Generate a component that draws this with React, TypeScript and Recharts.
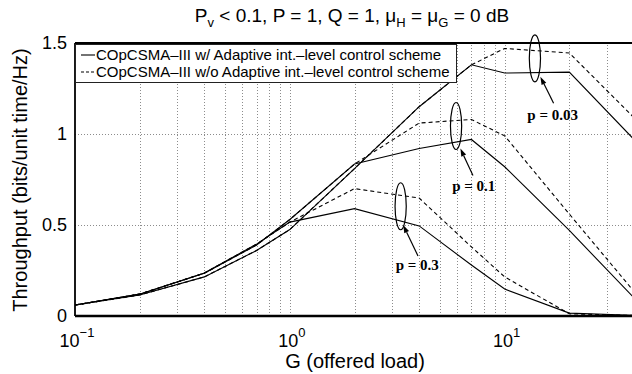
import React from 'react';
import {
  LineChart, Line, XAxis, YAxis, ReferenceLine, ReferenceDot,
} from 'recharts';

// offered load G (log axis)
const G = [0.1, 0.2, 0.4, 0.7, 1, 2, 4, 7, 10, 20, 40];

// throughput, w/ = solid, w/o = dashed
const W_P003 = [0.06, 0.115, 0.215, 0.36, 0.475, 0.81, 1.15, 1.38, 1.335, 1.34, 0.97];
const WO_P003 = [0.06, 0.115, 0.215, 0.36, 0.475, 0.81, 1.15, 1.38, 1.47, 1.445, 1.09];
const W_P01 = [0.06, 0.12, 0.235, 0.39, 0.53, 0.835, 0.92, 0.97, 0.82, 0.47, 0.1];
const WO_P01 = [0.06, 0.12, 0.235, 0.39, 0.53, 0.835, 1.06, 1.08, 0.99, 0.56, 0.135];
const W_P03 = [0.06, 0.12, 0.236, 0.395, 0.516, 0.59, 0.495, 0.28, 0.148, 0.016, 0.004];
const WO_P03 = [0.06, 0.12, 0.236, 0.395, 0.516, 0.7, 0.648, 0.38, 0.215, 0.012, 0.003];

const X_GRID = [0.1, 0.2, 0.3, 0.4, 0.5, 0.6, 0.7, 0.8, 0.9, 1, 2, 3, 4, 5, 6, 7, 8, 9, 10, 20, 30, 40];
const X_MAJOR: Record<string, string> = { '0.1': '\u22121', '1': '0', '10': '1' };
const Y_TICKS = [0, 0.5, 1, 1.5];
const Y_GRID = [0.5, 1];
const X_MIN = 0.1;
const X_MAX = 40;

const LEGEND = [
  'COpCSMA\u2013III w/ Adaptive int.\u2013level control scheme',
  'COpCSMA\u2013III w/o Adaptive int.\u2013level control scheme',
];

// p labels: ellipse centre, arrow tail -> head, text baseline (data coords)
const NOTES = [
  { label: 'p = 0.03', ell: [13.83, 1.416], tail: [16.9, 1.169], head: [14.66, 1.315], text: [16.72, 1.077] },
  { label: 'p = 0.1', ell: [5.94, 1.044], tail: [7.12, 0.772], head: [6.22, 0.921], text: [7.18, 0.687] },
  { label: 'p = 0.3', ell: [3.28, 0.603], tail: [3.95, 0.33], head: [3.37, 0.5], text: [3.92, 0.253] },
];

const data = G.map((g, i) => ({
  g,
  w003: W_P003[i], wo003: WO_P003[i],
  w01: W_P01[i], wo01: WO_P01[i],
  w03: W_P03[i], wo03: WO_P03[i],
}));

const FONT = '"Liberation Sans", Arial, Helvetica, sans-serif';
const GRID_COLOR = '#8c8c8c';

const snap = (v: number) => Math.round(v) + 0.5;

// dotted grid line (path), snapped to pixel centres
const GridLine = (props: any) => {
  const { x1, y1, x2, y2 } = props;
  const vertical = Math.abs(x1 - x2) < 0.5;
  const d = vertical
    ? `M${snap(x1)},${y1}V${y2}`
    : `M${x1},${snap(y1)}H${x2}`;
  return <path d={d} fill="none" stroke={GRID_COLOR} strokeWidth={1} strokeDasharray="1 2" />;
};

const XTick = (props: any) => {
  const { x, payload } = props;
  const exp = X_MAJOR[String(payload.value)];
  if (exp === undefined) return null;
  return (
    <text x={x + 2} y={347} textAnchor="middle" fontSize={18} fill="#000" fontFamily={FONT}>
      10<tspan dy={-10} fontSize={13}>{exp}</tspan>
    </text>
  );
};

const Arrow = (props: any) => {
  const { x1, y1, x2, y2 } = props;
  const dx = x2 - x1, dy = y2 - y1;
  const len = Math.sqrt(dx * dx + dy * dy) || 1;
  const ux = dx / len, uy = dy / len;
  const hl = 8, hw = 2.6;
  const bx = x2 - ux * hl, by = y2 - uy * hl;
  return (
    <g>
      <line x1={x1} y1={y1} x2={bx} y2={by} stroke="#000" strokeWidth={1.2} />
      <polygon
        points={`${x2},${y2} ${bx - uy * hw},${by + ux * hw} ${bx + uy * hw},${by - ux * hw}`}
        fill="#000"
      />
    </g>
  );
};

export default function App() {
  const line = (key: string, dashed: boolean) => (
    <Line
      key={key}
      type="linear"
      dataKey={key}
      stroke="#000"
      strokeWidth={1.1}
      strokeDasharray={dashed ? '4 3' : undefined}
      dot={false}
      isAnimationActive={false}
    />
  );

  return (
    <div style={{ position: 'absolute', left: 0, top: 0, width: 632, height: 374, overflow: 'hidden', background: '#fff', fontFamily: FONT }}>
      <LineChart width={660} height={374} data={data} margin={{ top: 43, right: 26, bottom: 0, left: 0 }}>
        <XAxis
          dataKey="g"
          type="number"
          scale="log"
          domain={[X_MIN, X_MAX]}
          allowDataOverflow
          ticks={X_GRID}
          interval={0}
          height={58}
          tickLine={false}
          axisLine={{ stroke: '#000', strokeWidth: 2.5 }}
          tick={<XTick />}
          label={{
            content: () => (
              <text x={355} y={368} textAnchor="middle" fontSize={20} fill="#000" fontFamily={FONT}>G (offered load)</text>
            ),
          }}
        />
        <YAxis
          type="number"
          domain={[0, 1.5]}
          ticks={Y_TICKS}
          interval={0}
          width={75}
          tickSize={0}
          tickMargin={8}
          tickLine={false}
          tickFormatter={(v: number) => String(v)}
          axisLine={{ stroke: '#000', strokeWidth: 1.8 }}
          tick={{ fontSize: 18, fill: '#000', fontFamily: FONT }}
          label={{
            content: () => (
              <text transform="rotate(-90)" x={-180} y={27} textAnchor="middle" fontSize={20} fill="#000" fontFamily={FONT}>
                Throughput (bits/unit time/Hz)
              </text>
            ),
          }}
        />
        {X_GRID.filter((v) => v > X_MIN).map((v) => (
          <ReferenceLine
            key={'gx' + v}
            segment={[{ x: v, y: 0 }, { x: v, y: 1.5 }]}
            shape={(p: any) => <GridLine {...p} />}
          />
        ))}
        {Y_GRID.map((v) => (
          <ReferenceLine
            key={'gy' + v}
            segment={[{ x: X_MIN, y: v }, { x: X_MAX, y: v }]}
            shape={(p: any) => <GridLine {...p} />}
          />
        ))}
        <ReferenceLine y={1.5} stroke="#000" strokeWidth={1.8} />
        {line('w03', false)}
        {line('wo03', true)}
        {line('w01', false)}
        {line('wo01', true)}
        {line('w003', false)}
        {line('wo003', true)}
        {NOTES.map((n) => (
          <ReferenceDot
            key={n.label + 'e'}
            x={n.ell[0]}
            y={n.ell[1]}
            shape={(p: any) => <ellipse cx={p.cx} cy={p.cy} rx={5.6} ry={23.5} fill="none" stroke="#000" strokeWidth={1.2} />}
          />
        ))}
        {NOTES.map((n) => (
          <ReferenceLine
            key={n.label + 'a'}
            segment={[{ x: n.tail[0], y: n.tail[1] }, { x: n.head[0], y: n.head[1] }]}
            shape={(p: any) => <Arrow {...p} />}
          />
        ))}
        {NOTES.map((n) => (
          <ReferenceDot
            key={n.label + 't'}
            x={n.text[0]}
            y={n.text[1]}
            shape={(p: any) => (
              <text x={p.cx} y={p.cy} textAnchor="middle" fontSize={15} fontWeight="bold" fill="#000"
                fontFamily='"Liberation Serif", "Times New Roman", serif'>{n.label}</text>
            )}
          />
        ))}
      </LineChart>

      <svg width={632} height={40} style={{ position: 'absolute', left: 0, top: 0 }}>
        <text x={352} y={22} textAnchor="middle" fontSize={19} fill="#000" fontFamily={FONT}>
          P<tspan dy={5} fontSize={13}>v</tspan>
          <tspan dy={-5}> &lt; 0.1, P = 1, Q = 1, &#956;</tspan>
          <tspan dy={5} fontSize={13}>H</tspan>
          <tspan dy={-5}> = &#956;</tspan>
          <tspan dy={5} fontSize={13}>G</tspan>
          <tspan dy={-5}> = 0 dB</tspan>
        </text>
      </svg>

      <div style={{
        position: 'absolute', left: 75, top: 44, width: 382, height: 39, boxSizing: 'border-box',
        border: '1.5px solid #222', background: '#fff', fontSize: 15, lineHeight: '17px', padding: '1px 0 0 5px',
      }}>
        {LEGEND.map((t, i) => (
          <div key={t} style={{ display: 'flex', alignItems: 'center', whiteSpace: 'nowrap' }}>
            <svg width={15} height={10} style={{ flex: 'none' }}>
              <line x1={0} y1={5} x2={14} y2={5} stroke="#000" strokeWidth={1.1} strokeDasharray={i === 1 ? '3 2' : undefined} />
            </svg>
            <span>{t}</span>
          </div>
        ))}
      </div>
    </div>
  );
}
